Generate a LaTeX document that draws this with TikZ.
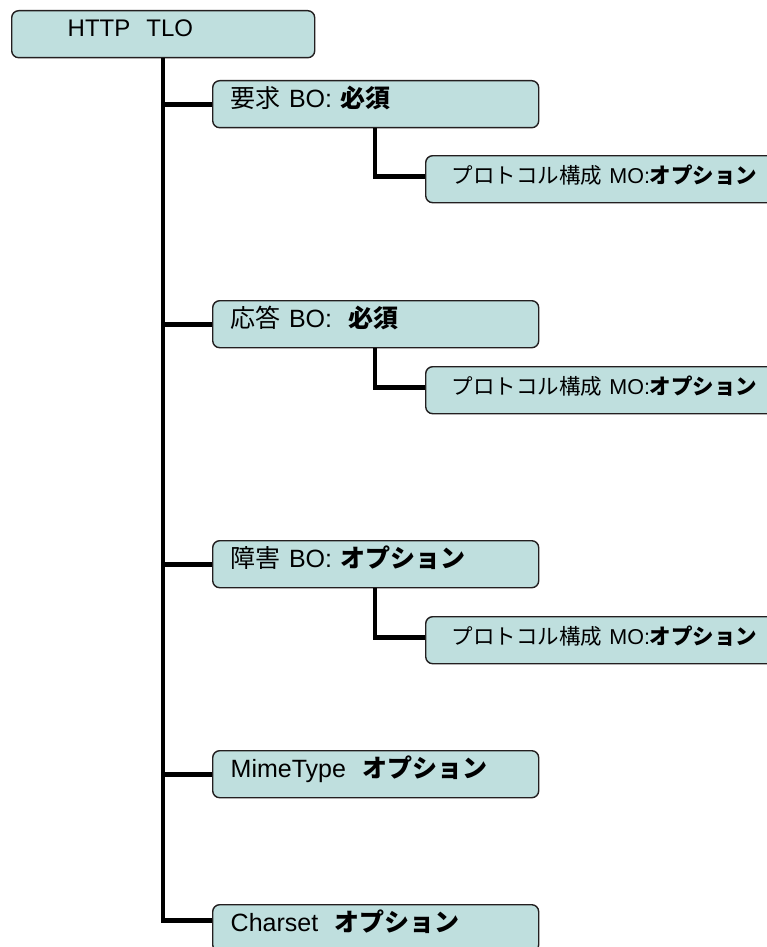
\documentclass[tikz,border=0pt]{standalone}
\usepackage{fontspec}
\setmainfont{Liberation Sans}
\newfontfamily\jpfont{Noto Sans CJK JP}
\usetikzlibrary{positioning}
\newcommand{\ja}[1]{{\jpfont #1}}
\newcommand{\jb}[1]{{\jpfont\bfseries #1}}
\definecolor{boxfill}{RGB}{191,223,222}
\definecolor{boxline}{RGB}{35,31,32}
\tikzset{
    obj/.style={draw=boxline, fill=boxfill, line width=1.4pt,
        rounded corners=7pt, anchor=north west, minimum height=47pt,
        align=left, text height=0.8em, text depth=0.25em},
    mainbox/.style={obj, text width=290pt, inner xsep=18pt,
        text depth=0.14em, font=\fontsize{25}{29}\selectfont},
    subbox/.style={obj, text width=330pt, inner xsep=26pt,
        text height=0.88em, text depth=0.12em,
        font=\fontsize{21.5}{25}\selectfont},
    link/.style={line width=4.8pt, draw=black}
}

\begin{document}
\begin{tikzpicture}[x=1pt, y=-1pt]
\useasboundingbox (0,0) rectangle (767,947);
\clip (0,0) rectangle (767,947);

% top level object
\node[obj, text width=247pt, inner xsep=28pt,
    font=\fontsize{24}{28}\selectfont
    ] (tlo) at (11,10) {\hspace*{28pt}HTTP\ \ TLO};

% branch objects
\node[mainbox] (req) at (212,80) {\ja{要求} BO: \jb{必須}};
\node[mainbox] (resp) at (212,300) {\ja{応答} BO:\ \ \jb{必須}};
\node[mainbox] (fault) at (212,540) {\ja{障害} BO: \jb{オプション}};
\node[mainbox] (mime) at (212,750) {MimeType\ \ \jb{オプション}};
\node[mainbox] (charset) at (212,904) {Charset\ \ \jb{オプション}};

% protocol config objects
\node[subbox] (reqcfg) at (425,155) {\ja{プロトコル構成} MO:\jb{オプション}};
\node[subbox] (respcfg) at (425,366) {\ja{プロトコル構成} MO:\jb{オプション}};
\node[subbox] (faultcfg) at (425,616) {\ja{プロトコル構成} MO:\jb{オプション}};

% trunk
\coordinate (trunk) at ([xshift=152pt]tlo.south west);
\draw[link] (trunk) |- ([yshift=8pt]charset.west);
\foreach \n in {req,resp,fault,mime}
    \draw[link] (trunk|-\n.west) -- (\n.west);

% sub branches
\foreach \p/\c in {req/reqcfg,resp/respcfg,fault/faultcfg}
    \draw[link] ([xshift=163pt]\p.south west) |- ([yshift=3pt]\c.west);
\end{tikzpicture}
\end{document}
